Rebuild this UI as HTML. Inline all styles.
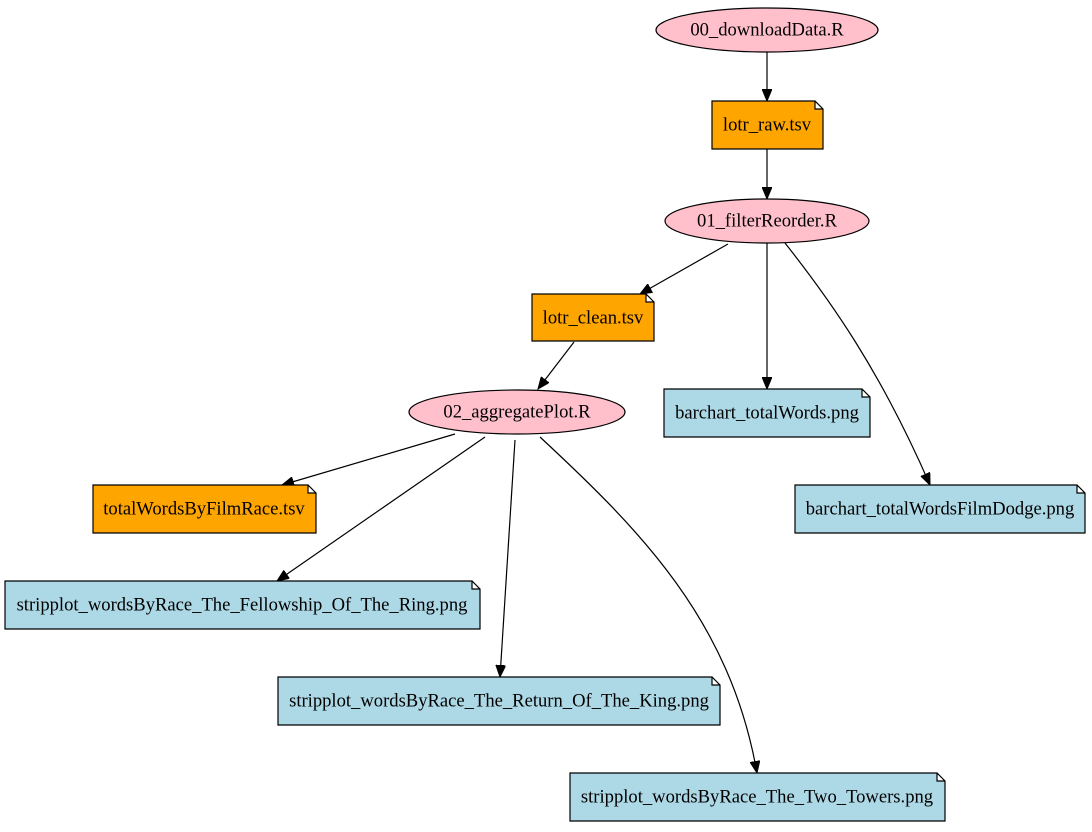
<!DOCTYPE html>
<html><head><meta charset="utf-8"><style>
html,body{margin:0;padding:0;background:#fff}
svg text{font-family:"Liberation Serif",serif;font-size:18.6px;text-anchor:middle;dominant-baseline:central}
</style></head><body>
<svg width="1092" height="827" viewBox="0 0 1092 827" xmlns="http://www.w3.org/2000/svg">
<defs><marker id="a" markerWidth="14" markerHeight="10" refX="12" refY="5" orient="auto" markerUnits="userSpaceOnUse"><path d="M0,0 L12,5 L0,10 Z" fill="#000" stroke="#000"/></marker></defs>
<g fill="none" stroke="#000" stroke-width="1.2" marker-end="url(#a)">
<path d="M767,52 L767,101"/>
<path d="M767,149 L767,199"/>
<path d="M728,244 L640,294"/>
<path d="M767,243 L767,389"/>
<path d="M785,243 C830,300 880,370 930,485"/>
<path d="M574,342 L538,389"/>
<path d="M455,434 L282,485"/>
<path d="M485,437 L277,581"/>
<path d="M515,440 L500,677"/>
<path d="M540,437 C640,530 730,620 757,773"/>
</g>
<g stroke="#000" stroke-width="1.2">
<ellipse cx="767" cy="30" rx="111" ry="22" fill="#ffc0cb"/>
<ellipse cx="767" cy="221" rx="102" ry="22" fill="#ffc0cb"/>
<ellipse cx="517" cy="412" rx="108" ry="22" fill="#ffc0cb"/>
</g>
<g stroke="#000" stroke-width="1.2">
<path d="M712,101 H815 L823,109 V149 H712 Z M815,101 V109 H823" fill="#ffa500"/>
<path d="M532,294 H646 L654,302 V341 H532 Z M646,294 V302 H654" fill="#ffa500"/>
<path d="M93,485 H308 L316,493 V533 H93 Z M308,485 V493 H316" fill="#ffa500"/>
<path d="M664,389 H862 L870,397 V437 H664 Z M862,389 V397 H870" fill="#add8e6"/>
<path d="M795,485 H1077 L1085,493 V533 H795 Z M1077,485 V493 H1085" fill="#add8e6"/>
<path d="M5,581 H472 L480,589 V629 H5 Z M472,581 V589 H480" fill="#add8e6"/>
<path d="M278,677 H712 L720,685 V725 H278 Z M712,677 V685 H720" fill="#add8e6"/>
<path d="M570,773 H937 L945,781 V821 H570 Z M937,773 V781 H945" fill="#add8e6"/>
</g>
<text x="767" y="30">00_downloadData.R</text>
<text x="767" y="125">lotr_raw.tsv</text>
<text x="767" y="221">01_filterReorder.R</text>
<text x="593" y="318">lotr_clean.tsv</text>
<text x="517" y="412">02_aggregatePlot.R</text>
<text x="767" y="413">barchart_totalWords.png</text>
<text x="940" y="509">barchart_totalWordsFilmDodge.png</text>
<text x="204" y="509">totalWordsByFilmRace.tsv</text>
<text x="242" y="605">stripplot_wordsByRace_The_Fellowship_Of_The_Ring.png</text>
<text x="499" y="701">stripplot_wordsByRace_The_Return_Of_The_King.png</text>
<text x="757" y="797">stripplot_wordsByRace_The_Two_Towers.png</text>
</svg>
</body></html>
